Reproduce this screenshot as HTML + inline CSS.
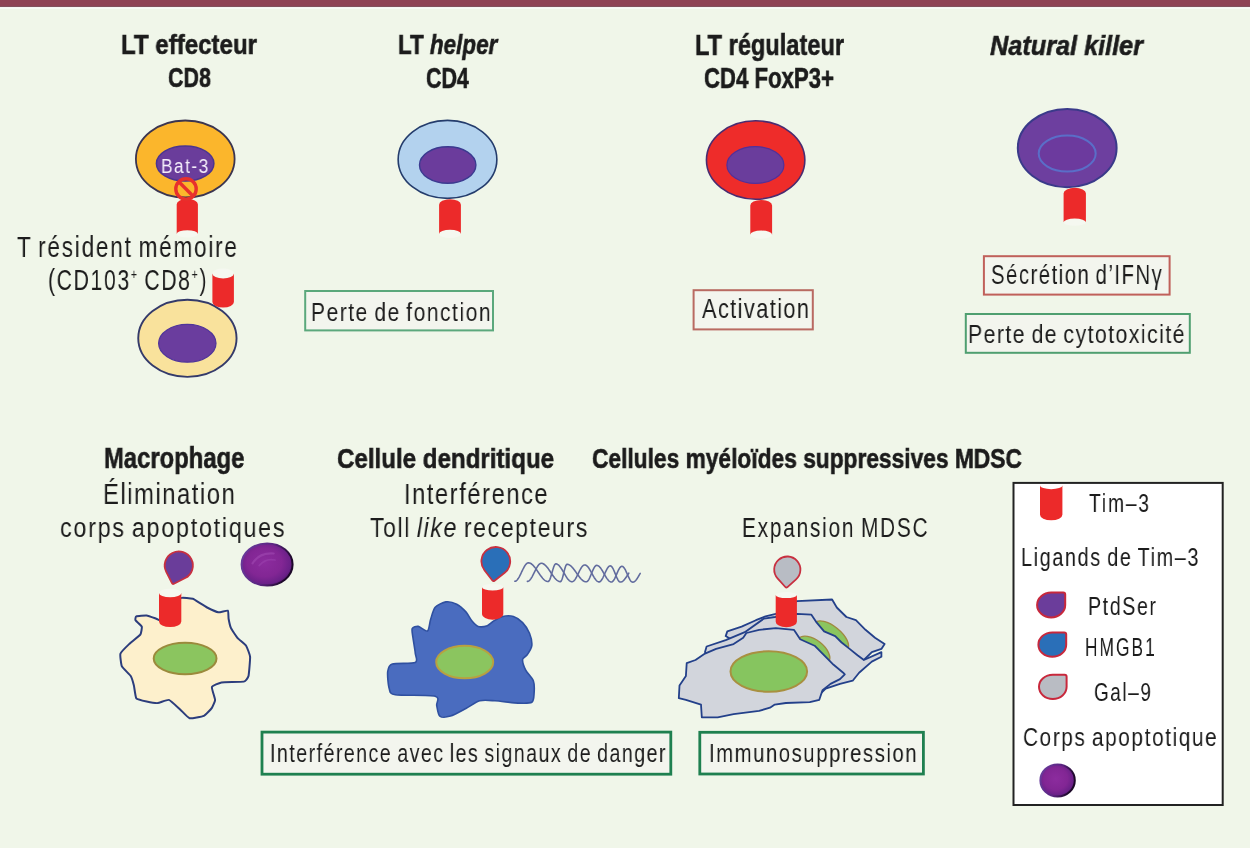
<!DOCTYPE html>
<html><head><meta charset="utf-8"><style>
html,body{margin:0;padding:0;}
body{width:1250px;height:848px;position:relative;overflow:hidden;background:#f0f6e9;font-family:"Liberation Sans",sans-serif;}
sup{font-size:0.5em;vertical-align:0;position:relative;top:-0.75em;}
i{font-style:italic;}
.r{}
.b{-webkit-text-stroke:0.6px #1c1c1c;}
</style></head><body>
<svg width="1250" height="848" style="position:absolute;left:0;top:0"><rect x="0" y="0" width="1250" height="6.2" fill="#8f4355"/><rect x="0" y="6.2" width="1250" height="1" fill="#6c3242"/><rect x="0" y="7.2" width="1250" height="1.3" fill="#ffffff"/><ellipse cx="185.25" cy="159.00" rx="49.35" ry="38.50" fill="#fbb62c" stroke="#3b3550" stroke-width="1.8"/><ellipse cx="185.15" cy="163.60" rx="28.75" ry="17.50" fill="#6a3d9b" stroke="#4b3590" stroke-width="1.5"/><ellipse cx="187.30" cy="233.90" rx="10.60" ry="3.60" fill="#f5f8f0"/><path d="M176.70,204.30 A10.60,5.50 0 0 1 197.90,204.30 L197.90,233.90 A10.60,3.60 0 0 0 176.70,233.90 Z" fill="#ec2a2a"/><circle cx="186" cy="189" r="10.2" fill="none" stroke="#e8302c" stroke-width="3.4"/><line x1="178.8" y1="181.8" x2="193.2" y2="196.2" stroke="#e8302c" stroke-width="3.4"/><ellipse cx="187.40" cy="338.30" rx="49.15" ry="38.55" fill="#f9e29c" stroke="#343a6a" stroke-width="1.9"/><ellipse cx="187.30" cy="343.30" rx="28.70" ry="18.90" fill="#6a3d9e" stroke="#50359a" stroke-width="1.2"/><ellipse cx="223.15" cy="273.50" rx="10.75" ry="4.90" fill="#f5f8f0"/><path d="M212.40,273.50 A10.75,4.90 0 0 0 233.90,273.50 L233.90,302.10 A10.75,5.50 0 0 1 212.40,302.10 Z" fill="#ec2a2a"/><ellipse cx="447.50" cy="159.40" rx="49.35" ry="39.00" fill="#b3d2ee" stroke="#243c6c" stroke-width="1.6"/><ellipse cx="447.70" cy="165.00" rx="28.20" ry="18.30" fill="#6b3c9c" stroke="#3b3a90" stroke-width="1.4"/><ellipse cx="450.00" cy="233.90" rx="10.90" ry="4.10" fill="#f5f8f0"/><path d="M439.10,204.70 A10.90,5.50 0 0 1 460.90,204.70 L460.90,233.90 A10.90,4.10 0 0 0 439.10,233.90 Z" fill="#ec2a2a"/><ellipse cx="755.65" cy="160.00" rx="49.20" ry="39.20" fill="#ee2c2a" stroke="#4a2c70" stroke-width="1.6"/><ellipse cx="755.40" cy="165.00" rx="28.50" ry="18.40" fill="#6a3d9c" stroke="#52309a" stroke-width="1.2"/><ellipse cx="761.20" cy="234.70" rx="10.90" ry="4.10" fill="#f5f8f0"/><path d="M750.30,205.50 A10.90,5.50 0 0 1 772.10,205.50 L772.10,234.70 A10.90,4.10 0 0 0 750.30,234.70 Z" fill="#ec2a2a"/><ellipse cx="1067.20" cy="148.10" rx="49.40" ry="39.20" fill="#6d3f9f" stroke="#3a3a8a" stroke-width="2"/><ellipse cx="1067.20" cy="153.60" rx="28.50" ry="18.00" fill="#6c3a9e" stroke="#5a6ec8" stroke-width="2"/><ellipse cx="1074.75" cy="222.20" rx="11.15" ry="3.60" fill="#f5f8f0"/><path d="M1063.60,193.30 A11.15,5.50 0 0 1 1085.90,193.30 L1085.90,222.20 A11.15,3.60 0 0 0 1063.60,222.20 Z" fill="#ec2a2a"/><path d="M180.90,598.00 C182.09,597.25 191.58,598.49 192.80,598.80 C194.02,599.11 198.25,602.12 199.20,602.70 C200.15,603.28 205.83,606.86 207.10,607.50 C208.37,608.14 216.92,612.09 218.30,612.30 C219.68,612.51 227.11,610.27 227.80,610.70 C228.49,611.13 228.39,617.53 228.60,618.70 C228.81,619.87 230.41,626.93 231.00,628.20 C231.59,629.47 236.39,636.63 237.40,637.80 C238.41,638.97 245.25,644.43 246.10,645.70 C246.95,646.97 249.94,654.88 250.10,656.90 C250.26,658.92 248.92,674.35 248.50,676.00 C248.08,677.65 245.60,681.17 243.80,681.60 C242.00,682.03 223.63,682.03 221.50,682.40 C219.37,682.77 212.33,685.93 211.90,687.10 C211.47,688.27 215.10,698.52 215.10,699.90 C215.10,701.28 212.65,706.74 211.90,707.80 C211.15,708.86 205.39,715.11 203.90,715.80 C202.41,716.49 191.19,718.63 189.60,718.20 C188.01,717.77 181.48,710.62 180.10,709.40 C178.72,708.18 170.39,700.32 168.90,699.90 C167.41,699.48 159.29,702.99 157.80,703.10 C156.31,703.21 148.03,701.82 146.60,701.50 C145.17,701.18 137.15,699.37 136.30,698.30 C135.45,697.23 134.27,686.99 133.90,685.50 C133.53,684.01 131.50,677.27 130.70,676.00 C129.90,674.73 122.59,667.89 121.90,666.40 C121.21,664.91 119.92,655.19 120.40,653.70 C120.88,652.21 127.77,645.37 129.10,644.10 C130.43,642.83 139.45,635.77 140.30,634.60 C141.15,633.43 142.12,627.55 141.80,626.60 C141.48,625.65 135.87,620.99 135.50,620.30 C135.13,619.61 135.56,616.62 136.30,616.30 C137.04,615.98 145.27,615.34 146.60,615.50 C147.93,615.66 154.97,618.27 156.20,618.70 C157.43,619.13 163.75,622.58 165.00,622.00 C166.25,621.42 173.94,611.60 175.00,610.00 C176.06,608.40 179.71,598.75 180.90,598.00 Z" fill="#fdf0cc" stroke="#2c3d7c" stroke-width="2" stroke-linejoin="round"/><ellipse cx="185.10" cy="658.50" rx="31.40" ry="15.70" fill="#8bc55f" stroke="#9b8a3c" stroke-width="2"/><ellipse cx="170.15" cy="593.00" rx="11.15" ry="4.30" fill="#f5f8f0"/><path d="M159.00,593.00 A11.15,4.30 0 0 0 181.30,593.00 L181.30,621.50 A11.15,5.50 0 0 1 159.00,621.50 Z" fill="#ec2a2a"/><path transform="translate(178.80,565.50) rotate(63)" d="M14.10,0 L14.10,12.60 Q14.10,14.10 12.60,14.10 L0,14.10 A14.10,14.10 0 1 1 14.10,0 Z" fill="#6a3d9a" stroke="#c83040" stroke-width="1.8" stroke-linejoin="round"/><defs><radialGradient id="ap" cx="0.45" cy="0.45" r="0.62"><stop offset="0" stop-color="#8c2c9e"/><stop offset="0.55" stop-color="#822694"/><stop offset="0.82" stop-color="#6a2088"/><stop offset="1" stop-color="#3a1050"/></radialGradient><linearGradient id="apr" x1="0" y1="0" x2="1" y2="0.3"><stop offset="0" stop-color="#6b3fa0"/><stop offset="0.6" stop-color="#5a2480"/><stop offset="1" stop-color="#1c0828"/></linearGradient></defs><ellipse cx="267.10" cy="564.50" rx="25.50" ry="21.10" fill="url(#ap)" stroke="url(#apr)" stroke-width="2"/><path d="M252.53,563.39 Q259.15,552.35 273.73,553.45" fill="none" stroke="#a550b8" stroke-width="2.12" stroke-linecap="round" opacity="0.5"/><path d="M259.15,565.61 Q265.78,557.87 275.05,560.08" fill="none" stroke="#a04ab4" stroke-width="1.59" stroke-linecap="round" opacity="0.45"/><path d="M445.90,601.90 C448.77,601.49 454.03,602.87 456.70,604.20 C459.37,605.53 463.86,609.65 465.90,611.90 C467.94,614.15 470.37,619.17 472.00,621.10 C473.63,623.03 476.06,625.79 478.10,626.40 C480.14,627.01 485.25,626.41 487.30,625.70 C489.35,624.99 491.45,622.33 493.50,621.10 C495.55,619.87 500.05,617.11 502.70,616.50 C505.35,615.89 510.75,615.69 513.40,616.50 C516.05,617.31 520.45,620.36 522.60,622.60 C524.75,624.84 528.27,630.23 529.50,633.30 C530.73,636.37 532.11,642.73 531.80,645.60 C531.49,648.47 528.43,652.96 527.20,654.80 C525.97,656.64 522.80,657.36 522.60,659.40 C522.40,661.44 524.26,667.23 525.70,670.10 C527.14,672.97 532.28,677.83 533.40,680.90 C534.52,683.97 534.31,690.25 534.10,693.10 C533.89,695.95 533.95,700.97 531.80,702.30 C529.65,703.63 522.91,703.30 518.00,703.10 C513.09,702.90 500.11,701.11 495.00,700.80 C489.89,700.49 483.58,699.77 479.70,700.80 C475.82,701.83 469.79,706.46 465.90,708.50 C462.01,710.54 453.98,715.09 450.50,716.10 C447.02,717.11 441.64,717.53 439.80,716.10 C437.96,714.67 437.31,708.05 436.70,705.40 C436.09,702.75 440.72,697.63 435.20,696.20 C429.68,694.77 401.43,695.73 395.30,694.70 C389.17,693.67 390.21,691.57 389.20,688.50 C388.19,685.43 387.29,674.97 387.70,671.70 C388.11,668.43 388.62,665.23 392.30,664.00 C395.98,662.77 412.23,663.93 415.30,662.50 C418.37,661.07 415.61,656.58 415.30,653.30 C414.99,650.02 413.41,641.18 413.00,637.90 C412.59,634.62 411.49,630.23 412.20,628.70 C412.91,627.17 416.26,626.09 418.30,626.40 C420.34,626.71 425.86,631.92 427.50,631.00 C429.14,630.08 429.57,622.66 430.60,619.50 C431.63,616.34 433.16,609.65 435.20,607.30 C437.24,604.95 443.03,602.31 445.90,601.90 Z" fill="#4a6cbf" stroke="#2f50a0" stroke-width="1.6" stroke-linejoin="round"/><ellipse cx="464.70" cy="662.10" rx="28.50" ry="16.25" fill="#8bc55f" stroke="#b8a040" stroke-width="2"/><ellipse cx="492.65" cy="587.20" rx="10.65" ry="3.30" fill="#f5f8f0"/><path d="M482.00,587.20 A10.65,3.30 0 0 0 503.30,587.20 L503.30,614.20 A10.65,5.50 0 0 1 482.00,614.20 Z" fill="#ec2a2a"/><path transform="translate(495.80,561.40) rotate(52)" d="M14.40,0 L14.40,12.90 Q14.40,14.40 12.90,14.40 L0,14.40 A14.40,14.40 0 1 1 14.40,0 Z" fill="#2a6fb8" stroke="#c83040" stroke-width="1.8" stroke-linejoin="round"/><path d="M514.80,581.30 L515.18,581.27 L515.56,581.16 L515.94,580.98 L516.33,580.74 L516.71,580.42 L517.09,580.04 L517.47,579.60 L517.85,579.10 L518.23,578.55 L518.61,577.94 L518.99,577.29 L519.38,576.60 L519.76,575.88 L520.14,575.12 L520.52,574.34 L520.90,573.55 L521.28,572.74 L521.66,571.93 L522.04,571.11 L522.43,570.31 L522.81,569.52 L523.19,568.75 L523.57,568.01 L523.95,567.29 L524.33,566.62 L524.71,565.98 L525.09,565.39 L525.48,564.86 L525.86,564.38 L526.24,563.96 L526.62,563.60 L527.00,563.30 L527.38,563.08 L527.76,562.92 L528.14,562.83 L528.53,562.81 L528.91,562.85 L529.29,562.92 L529.67,563.02 L530.05,563.16 L530.43,563.33 L530.81,563.53 L531.19,563.76 L531.58,564.03 L531.96,564.33 L532.34,564.65 L532.72,565.00 L533.10,565.38 L533.48,565.79 L533.86,566.21 L534.24,566.66 L534.63,567.13 L535.01,567.62 L535.39,568.13 L535.77,568.65 L536.15,569.18 L536.53,569.72 L536.91,570.27 L537.29,570.83 L537.68,571.40 L538.06,571.96 L538.44,572.53 L538.82,573.10 L539.20,573.66 L539.58,574.22 L539.96,574.77 L540.35,575.30 L540.73,575.83 L541.11,576.35 L541.49,576.85 L541.87,577.33 L542.25,577.79 L542.63,578.23 L543.01,578.65 L543.40,579.05 L543.78,579.42 L544.16,579.76 L544.54,580.08 L544.92,580.37 L545.30,580.62 L545.68,580.85 L546.06,581.05 L546.45,581.21 L546.83,581.34 L547.21,581.44 L547.59,581.51 L547.97,581.54 L548.35,581.49 L548.73,581.25 L549.11,580.81 L549.50,580.17 L549.88,579.35 L550.26,578.38 L550.64,577.27 L551.02,576.05 L551.40,574.75 L551.78,573.41 L552.16,572.04 L552.55,570.70 L552.93,569.40 L553.31,568.18 L553.69,567.06 L554.07,566.08 L554.45,565.26 L554.83,564.61 L555.21,564.15 L555.60,563.90 L555.98,563.84 L556.36,563.89 L556.74,563.99 L557.12,564.14 L557.50,564.33 L557.88,564.57 L558.26,564.85 L558.65,565.18 L559.03,565.55 L559.41,565.96 L559.79,566.41 L560.17,566.89 L560.55,567.40 L560.93,567.94 L561.32,568.51 L561.70,569.11 L562.08,569.72 L562.46,570.35 L562.84,570.99 L563.22,571.64 L563.60,572.30 L563.98,572.96 L564.37,573.61 L564.75,574.27 L565.13,574.91 L565.51,575.55 L565.89,576.17 L566.27,576.77 L566.65,577.34 L567.03,577.90 L567.42,578.42 L567.80,578.92 L568.18,579.38 L568.56,579.80 L568.94,580.19 L569.32,580.53 L569.70,580.84 L570.08,581.10 L570.47,581.31 L570.85,581.48 L571.23,581.61 L571.61,581.68 L571.99,581.71 L572.37,581.68 L572.75,581.57 L573.13,581.39 L573.52,581.13 L573.90,580.81 L574.28,580.42 L574.66,579.96 L575.04,579.45 L575.42,578.88 L575.80,578.27 L576.18,577.60 L576.57,576.91 L576.95,576.18 L577.33,575.42 L577.71,574.65 L578.09,573.86 L578.47,573.07 L578.85,572.28 L579.23,571.50 L579.62,570.74 L580.00,570.00 L580.38,569.29 L580.76,568.62 L581.14,567.99 L581.52,567.40 L581.90,566.87 L582.28,566.39 L582.67,565.98 L583.05,565.63 L583.43,565.35 L583.81,565.13 L584.19,564.99 L584.57,564.93 L584.95,564.93 L585.34,565.00 L585.72,565.13 L586.10,565.31 L586.48,565.55 L586.86,565.85 L587.24,566.20 L587.62,566.59 L588.00,567.04 L588.39,567.53 L588.77,568.06 L589.15,568.62 L589.53,569.23 L589.91,569.85 L590.29,570.51 L590.67,571.18 L591.05,571.87 L591.44,572.57 L591.82,573.28 L592.20,573.98 L592.58,574.68 L592.96,575.38 L593.34,576.06 L593.72,576.72 L594.10,577.35 L594.49,577.96 L594.87,578.54 L595.25,579.09 L595.63,579.59 L596.01,580.05 L596.39,580.47 L596.77,580.83 L597.15,581.15 L597.54,581.41 L597.92,581.62 L598.30,581.77 L598.68,581.87 L599.06,581.90 L599.44,581.87 L599.82,581.74 L600.20,581.52 L600.59,581.21 L600.97,580.82 L601.35,580.35 L601.73,579.80 L602.11,579.18 L602.49,578.50 L602.87,577.77 L603.25,576.99 L603.64,576.18 L604.02,575.34 L604.40,574.49 L604.78,573.63 L605.16,572.77 L605.54,571.92 L605.92,571.10 L606.31,570.31 L606.69,569.56 L607.07,568.87 L607.45,568.23 L607.83,567.65 L608.21,567.15 L608.59,566.72 L608.97,566.38 L609.36,566.13 L609.74,565.96 L610.12,565.88 L610.50,565.90 L610.88,566.03 L611.26,566.27 L611.64,566.62 L612.02,567.07 L612.41,567.62 L612.79,568.25 L613.17,568.97 L613.55,569.75 L613.93,570.60 L614.31,571.49 L614.69,572.41 L615.07,573.36 L615.46,574.31 L615.84,575.26 L616.22,576.19 L616.60,577.09 L616.98,577.94 L617.36,578.74 L617.74,579.48 L618.12,580.14 L618.51,580.71 L618.89,581.19 L619.27,581.56 L619.65,581.84 L620.03,582.00 L620.41,582.06 L620.79,582.03 L621.17,581.96 L621.56,581.84 L621.94,581.68 L622.32,581.47 L622.70,581.21 L623.08,580.91 L623.46,580.57 L623.84,580.19 L624.22,579.78 L624.61,579.33 L624.99,578.86 L625.37,578.35 L625.75,577.82 L626.13,577.27 L626.51,576.70 L626.89,576.12 L627.27,575.53 L627.66,574.93 L628.04,574.33 L628.42,573.73 L628.80,573.13" fill="none" stroke="#626c9e" stroke-width="1.6" stroke-linecap="round" stroke-linejoin="round"/><path d="M527.40,581.39 L527.78,581.36 L528.15,581.26 L528.53,581.10 L528.91,580.87 L529.29,580.58 L529.66,580.24 L530.04,579.83 L530.42,579.37 L530.80,578.86 L531.17,578.30 L531.55,577.69 L531.93,577.05 L532.30,576.38 L532.68,575.67 L533.06,574.94 L533.44,574.19 L533.81,573.43 L534.19,572.67 L534.57,571.89 L534.95,571.13 L535.32,570.37 L535.70,569.63 L536.08,568.90 L536.45,568.20 L536.83,567.54 L537.21,566.90 L537.59,566.31 L537.96,565.76 L538.34,565.25 L538.72,564.80 L539.09,564.41 L539.47,564.07 L539.85,563.79 L540.23,563.57 L540.60,563.41 L540.98,563.32 L541.36,563.30 L541.74,563.32 L542.11,563.39 L542.49,563.48 L542.87,563.62 L543.24,563.78 L543.62,563.99 L544.00,564.22 L544.38,564.48 L544.75,564.78 L545.13,565.10 L545.51,565.46 L545.89,565.84 L546.26,566.24 L546.64,566.67 L547.02,567.12 L547.39,567.60 L547.77,568.09 L548.15,568.59 L548.53,569.12 L548.90,569.65 L549.28,570.20 L549.66,570.75 L550.04,571.31 L550.41,571.87 L550.79,572.44 L551.17,573.01 L551.54,573.57 L551.92,574.13 L552.30,574.69 L552.68,575.23 L553.05,575.76 L553.43,576.29 L553.81,576.79 L554.19,577.28 L554.56,577.75 L554.94,578.20 L555.32,578.63 L555.69,579.04 L556.07,579.42 L556.45,579.77 L556.83,580.10 L557.20,580.40 L557.58,580.66 L557.96,580.90 L558.34,581.10 L558.71,581.27 L559.09,581.41 L559.47,581.52 L559.84,581.59 L560.22,581.62 L560.60,581.59 L560.98,581.31 L561.35,580.77 L561.73,579.98 L562.11,578.97 L562.48,577.77 L562.86,576.42 L563.24,574.96 L563.62,573.44 L563.99,571.90 L564.37,570.39 L564.75,568.97 L565.13,567.67 L565.50,566.54 L565.88,565.60 L566.26,564.90 L566.63,564.45 L567.01,564.26 L567.39,564.28 L567.77,564.34 L568.14,564.43 L568.52,564.55 L568.90,564.70 L569.28,564.89 L569.65,565.11 L570.03,565.36 L570.41,565.63 L570.78,565.94 L571.16,566.27 L571.54,566.63 L571.92,567.01 L572.29,567.42 L572.67,567.84 L573.05,568.29 L573.43,568.75 L573.80,569.23 L574.18,569.73 L574.56,570.23 L574.93,570.75 L575.31,571.28 L575.69,571.81 L576.07,572.35 L576.44,572.89 L576.82,573.43 L577.20,573.96 L577.58,574.50 L577.95,575.03 L578.33,575.55 L578.71,576.06 L579.08,576.56 L579.46,577.05 L579.84,577.52 L580.22,577.97 L580.59,578.41 L580.97,578.82 L581.35,579.21 L581.73,579.58 L582.10,579.93 L582.48,580.25 L582.86,580.54 L583.23,580.80 L583.61,581.04 L583.99,581.24 L584.37,581.42 L584.74,581.56 L585.12,581.67 L585.50,581.75 L585.87,581.80 L586.25,581.81 L586.63,581.75 L587.01,581.58 L587.38,581.31 L587.76,580.94 L588.14,580.48 L588.52,579.93 L588.89,579.30 L589.27,578.60 L589.65,577.84 L590.02,577.02 L590.40,576.16 L590.78,575.27 L591.16,574.35 L591.53,573.43 L591.91,572.51 L592.29,571.60 L592.67,570.72 L593.04,569.88 L593.42,569.08 L593.80,568.34 L594.17,567.66 L594.55,567.06 L594.93,566.54 L595.31,566.12 L595.68,565.78 L596.06,565.54 L596.44,565.41 L596.82,565.37 L597.19,565.42 L597.57,565.52 L597.95,565.67 L598.32,565.87 L598.70,566.12 L599.08,566.43 L599.46,566.78 L599.83,567.18 L600.21,567.61 L600.59,568.09 L600.97,568.61 L601.34,569.15 L601.72,569.73 L602.10,570.33 L602.47,570.96 L602.85,571.60 L603.23,572.25 L603.61,572.92 L603.98,573.59 L604.36,574.26 L604.74,574.92 L605.12,575.58 L605.49,576.22 L605.87,576.85 L606.25,577.46 L606.62,578.04 L607.00,578.60 L607.38,579.12 L607.76,579.60 L608.13,580.05 L608.51,580.46 L608.89,580.82 L609.26,581.14 L609.64,581.41 L610.02,581.63 L610.40,581.80 L610.77,581.92 L611.15,581.98 L611.53,581.99 L611.91,581.91 L612.28,581.73 L612.66,581.45 L613.04,581.08 L613.41,580.62 L613.79,580.08 L614.17,579.47 L614.55,578.79 L614.92,578.05 L615.30,577.26 L615.68,576.43 L616.06,575.57 L616.43,574.70 L616.81,573.82 L617.19,572.94 L617.56,572.08 L617.94,571.25 L618.32,570.45 L618.70,569.70 L619.07,569.01 L619.45,568.38 L619.83,567.82 L620.21,567.34 L620.58,566.95 L620.96,566.65 L621.34,566.44 L621.71,566.34 L622.09,566.32 L622.47,566.41 L622.85,566.59 L623.22,566.87 L623.60,567.23 L623.98,567.68 L624.36,568.21 L624.73,568.81 L625.11,569.48 L625.49,570.20 L625.86,570.98 L626.24,571.79 L626.62,572.63 L627.00,573.50 L627.37,574.37 L627.75,575.24 L628.13,576.09 L628.51,576.93 L628.88,577.73 L629.26,578.49 L629.64,579.19 L630.01,579.84 L630.39,580.42 L630.77,580.92 L631.15,581.34 L631.52,581.68 L631.90,581.93 L632.28,582.08 L632.65,582.15 L633.03,582.13 L633.41,582.05 L633.79,581.91 L634.16,581.72 L634.54,581.48 L634.92,581.18 L635.30,580.83 L635.67,580.44 L636.05,580.00 L636.43,579.52 L636.80,579.00 L637.18,578.45 L637.56,577.87 L637.94,577.27 L638.31,576.65 L638.69,576.01 L639.07,575.36 L639.45,574.71 L639.82,574.06 L640.20,573.41" fill="none" stroke="#626c9e" stroke-width="1.6" stroke-linecap="round" stroke-linejoin="round"/><path d="M725.70,636.10 L727.30,631.40 L741.60,626.60 L755.90,620.20 L765.50,616.30 L775.80,613.90 L786.00,606.00 L797.00,601.10 L832.10,599.50 L836.80,607.50 L846.40,617.00 L855.90,620.20 L865.50,629.80 L875.00,637.70 L884.60,644.10 L881.40,648.90 L871.80,652.10 L863.90,660.00 L860.70,663.20 L840.00,668.00 L780.00,650.00 L740.00,645.00 Z" fill="#d2d5dc" stroke="#23408a" stroke-width="1.8" stroke-linejoin="round"/><ellipse cx="831" cy="636.2" rx="21" ry="10" transform="rotate(39 831 636.2)" fill="#8bc55f" stroke="#a08a40" stroke-width="1.4"/><path d="M705.00,652.00 L706.60,646.50 L725.70,640.10 L744.80,632.20 L763.90,618.60 L775.00,617.00 L786.00,615.00 L797.00,613.90 L811.40,614.70 L816.10,621.80 L824.10,631.40 L835.20,636.10 L841.60,642.50 L849.60,648.90 L857.50,655.20 L863.90,660.00 L881.40,652.10 L881.40,656.80 L871.80,661.60 L859.10,672.70 L852.70,680.70 L840.00,683.90 L825.70,688.60 L819.00,695.00 L780.00,700.00 L720.00,680.00 Z" fill="#d2d5dc" stroke="#23408a" stroke-width="1.8" stroke-linejoin="round"/><ellipse cx="813.5" cy="650.5" rx="19" ry="10.5" transform="rotate(38 813.5 650.5)" fill="#8bc55f" stroke="#a08a40" stroke-width="1.4"/><path d="M678.80,698.20 L679.50,685.50 L685.90,675.90 L686.70,663.20 L695.50,660.00 L705.00,653.60 L716.10,648.90 L733.60,644.10 L743.20,637.70 L746.40,633.00 L759.10,629.80 L775.80,628.20 L793.90,629.80 L800.20,639.30 L814.60,645.70 L822.50,653.60 L833.60,664.80 L843.20,672.70 L844.80,674.30 L840.00,679.10 L830.50,683.90 L822.50,690.20 L819.30,699.80 L809.80,702.20 L785.90,703.00 L774.80,704.60 L770.00,707.70 L759.10,710.90 L733.60,714.10 L717.70,717.30 L701.80,717.30 L701.00,704.60 L685.90,699.80 Z" fill="#d2d5dc" stroke="#23408a" stroke-width="1.8" stroke-linejoin="round"/><ellipse cx="768.80" cy="671.50" rx="38.30" ry="20.20" fill="#86c55f" stroke="#a89040" stroke-width="2"/><ellipse cx="786.30" cy="595.10" rx="10.60" ry="3.00" fill="#f5f8f0"/><path d="M775.70,595.10 A10.60,3.00 0 0 0 796.90,595.10 L796.90,621.70 A10.60,5.50 0 0 1 775.70,621.70 Z" fill="#ec2a2a"/><path transform="translate(787.30,569.60) rotate(48)" d="M13.10,0 L13.10,11.60 Q13.10,13.10 11.60,13.10 L0,13.10 A13.10,13.10 0 1 1 13.10,0 Z" fill="#b8bcc4" stroke="#c83040" stroke-width="1.8" stroke-linejoin="round"/></svg>
<svg width="1250" height="848" style="position:absolute;left:0;top:0"><rect x="305.20" y="291.00" width="187.80" height="39.40" fill="#f3f5ee" stroke="#5ba87c" stroke-width="2"/><rect x="693.60" y="290.20" width="119.20" height="39.20" fill="#f3f5ee" stroke="#b96a62" stroke-width="2"/><rect x="983.90" y="256.20" width="185.70" height="38.40" fill="#f3f5ee" stroke="#c0605a" stroke-width="2"/><rect x="965.80" y="314.00" width="224.00" height="38.80" fill="#f3f5ee" stroke="#4f9f70" stroke-width="2"/><rect x="262.00" y="732.10" width="408.80" height="42.10" fill="#f3f5ee" stroke="#1f8050" stroke-width="2.8"/><rect x="699.80" y="732.30" width="223.60" height="41.70" fill="#f3f5ee" stroke="#1f8050" stroke-width="2.8"/><rect x="1013.50" y="482.90" width="209.20" height="322.10" fill="#ffffff" stroke="#222222" stroke-width="2"/></svg>
<svg width="1250" height="848" style="position:absolute;left:0;top:0"><path d="M1040.00,485.40 A11.20,3.80 0 0 0 1062.40,485.40 L1062.40,514.80 A11.20,5.50 0 0 1 1040.00,514.80 Z" fill="#ec2a2a"/><path d="M1051.15,592.50 L1063.20,592.50 Q1065.20,592.50 1065.20,594.50 L1065.20,604.95 A14.05,12.45 0 1 1 1051.15,592.50 Z" fill="#6b3d9b" stroke="#c8283c" stroke-width="2.0"/><path d="M1052.30,632.50 L1064.20,632.50 Q1066.20,632.50 1066.20,634.50 L1066.20,644.65 A13.90,12.15 0 1 1 1052.30,632.50 Z" fill="#2a6fb8" stroke="#c8283c" stroke-width="2.0"/><path d="M1052.80,674.70 L1064.60,674.70 Q1066.60,674.70 1066.60,676.70 L1066.60,686.85 A13.80,12.15 0 1 1 1052.80,674.70 Z" fill="#b9bcc3" stroke="#c8283c" stroke-width="2.0"/><defs><radialGradient id="ap2" cx="0.45" cy="0.45" r="0.62"><stop offset="0" stop-color="#8c2c9e"/><stop offset="0.55" stop-color="#822694"/><stop offset="0.82" stop-color="#6a2088"/><stop offset="1" stop-color="#3a1050"/></radialGradient><linearGradient id="ap2r" x1="0" y1="0" x2="1" y2="0.3"><stop offset="0" stop-color="#6b3fa0"/><stop offset="0.6" stop-color="#5a2480"/><stop offset="1" stop-color="#1c0828"/></linearGradient></defs><ellipse cx="1057.60" cy="780.40" rx="17.20" ry="16.00" fill="url(#ap2)" stroke="url(#ap2r)" stroke-width="2"/></svg>
<div id="t1" class="b" style="position:absolute;left:121.11px;top:30.00px;transform-origin:0 0;transform:scaleX(0.8453);will-change:transform;white-space:nowrap;font-family:'Liberation Sans',sans-serif;font-size:28.49px;line-height:28.49px;font-weight:700;color:#1c1c1c;">LT effecteur</div><div id="t2" class="b" style="position:absolute;left:168.14px;top:63.20px;transform-origin:0 0;transform:scaleX(0.7564);will-change:transform;white-space:nowrap;font-family:'Liberation Sans',sans-serif;font-size:28.34px;line-height:28.34px;font-weight:700;color:#1c1c1c;">CD8</div><div id="t3" class="b" style="position:absolute;left:397.63px;top:30.20px;transform-origin:0 0;transform:scaleX(0.7873);will-change:transform;white-space:nowrap;font-family:'Liberation Sans',sans-serif;font-size:28.49px;line-height:28.49px;font-weight:700;color:#1c1c1c;">LT <i>helper</i></div><div id="t4" class="b" style="position:absolute;left:425.95px;top:63.70px;transform-origin:0 0;transform:scaleX(0.7482);will-change:transform;white-space:nowrap;font-family:'Liberation Sans',sans-serif;font-size:28.63px;line-height:28.63px;font-weight:700;color:#1c1c1c;">CD4</div><div id="t5" class="b" style="position:absolute;left:694.95px;top:30.50px;transform-origin:0 0;transform:scaleX(0.8246);will-change:transform;white-space:nowrap;font-family:'Liberation Sans',sans-serif;font-size:28.63px;line-height:28.63px;font-weight:700;color:#1c1c1c;">LT régulateur</div><div id="t6" class="b" style="position:absolute;left:704.44px;top:63.60px;transform-origin:0 0;transform:scaleX(0.7586);will-change:transform;white-space:nowrap;font-family:'Liberation Sans',sans-serif;font-size:29.22px;line-height:29.22px;font-weight:700;color:#1c1c1c;">CD4 FoxP3+</div><div id="t7" class="b" style="position:absolute;left:989.91px;top:30.50px;transform-origin:0 0;transform:scaleX(0.8919);will-change:transform;white-space:nowrap;font-family:'Liberation Sans',sans-serif;font-size:28.34px;line-height:28.34px;font-weight:700;color:#1c1c1c;"><i>Natural killer</i></div><div id="t8" style="position:absolute;left:161.24px;top:157.10px;transform-origin:0 0;transform:scaleX(0.8784);will-change:transform;white-space:nowrap;font-family:'Liberation Sans',sans-serif;font-size:19.77px;line-height:19.77px;font-weight:400;color:#f4eefa;letter-spacing:1.636px;word-spacing:-0.09em;">Bat-3</div><div id="t9" class="r" style="position:absolute;left:17.41px;top:233.40px;transform-origin:0 0;transform:scaleX(0.7884);will-change:transform;white-space:nowrap;font-family:'Liberation Sans',sans-serif;font-size:28.63px;line-height:28.63px;font-weight:400;color:#1c1c1c;letter-spacing:2.241px;word-spacing:-0.09em;">T résident mémoire</div><div id="t10" class="r" style="position:absolute;left:47.93px;top:266.00px;transform-origin:0 0;transform:scaleX(0.7370);will-change:transform;white-space:nowrap;font-family:'Liberation Sans',sans-serif;font-size:28.63px;line-height:28.63px;font-weight:400;color:#1c1c1c;letter-spacing:2.288px;word-spacing:-0.09em;">(CD103<sup>+</sup> CD8<sup>+</sup>)</div><div id="t11" class="r" style="position:absolute;left:310.58px;top:299.60px;transform-origin:0 0;transform:scaleX(0.8101);will-change:transform;white-space:nowrap;font-family:'Liberation Sans',sans-serif;font-size:25.87px;line-height:25.87px;font-weight:400;color:#1c1c1c;letter-spacing:1.920px;word-spacing:-0.09em;">Perte de fonction</div><div id="t12" class="r" style="position:absolute;left:701.60px;top:295.50px;transform-origin:0 0;transform:scaleX(0.8092);will-change:transform;white-space:nowrap;font-family:'Liberation Sans',sans-serif;font-size:26.89px;line-height:26.89px;font-weight:400;color:#1c1c1c;letter-spacing:1.747px;word-spacing:-0.09em;">Activation</div><div id="t13" class="r" style="position:absolute;left:991.24px;top:262.00px;transform-origin:0 0;transform:scaleX(0.7603);will-change:transform;white-space:nowrap;font-family:'Liberation Sans',sans-serif;font-size:26.74px;line-height:26.74px;font-weight:400;color:#1c1c1c;letter-spacing:1.964px;word-spacing:-0.09em;">Sécrétion d’IFNγ</div><div id="t14" class="r" style="position:absolute;left:968.34px;top:321.80px;transform-origin:0 0;transform:scaleX(0.8310);will-change:transform;white-space:nowrap;font-family:'Liberation Sans',sans-serif;font-size:25.58px;line-height:25.58px;font-weight:400;color:#1c1c1c;letter-spacing:1.741px;word-spacing:-0.09em;">Perte de cytotoxicité</div><div id="t15" class="b" style="position:absolute;left:104.13px;top:443.70px;transform-origin:0 0;transform:scaleX(0.8325);will-change:transform;white-space:nowrap;font-family:'Liberation Sans',sans-serif;font-size:28.63px;line-height:28.63px;font-weight:700;color:#1c1c1c;">Macrophage</div><div id="t16" class="r" style="position:absolute;left:102.73px;top:479.80px;transform-origin:0 0;transform:scaleX(0.8335);will-change:transform;white-space:nowrap;font-family:'Liberation Sans',sans-serif;font-size:28.63px;line-height:28.63px;font-weight:400;color:#1c1c1c;letter-spacing:1.818px;word-spacing:-0.09em;">Élimination</div><div id="t17" class="r" style="position:absolute;left:59.58px;top:512.50px;transform-origin:0 0;transform:scaleX(0.8236);will-change:transform;white-space:nowrap;font-family:'Liberation Sans',sans-serif;font-size:28.34px;line-height:28.34px;font-weight:400;color:#1c1c1c;letter-spacing:2.107px;word-spacing:-0.09em;">corps apoptotiques</div><div id="t18" class="b" style="position:absolute;left:336.75px;top:443.60px;transform-origin:0 0;transform:scaleX(0.8467);will-change:transform;white-space:nowrap;font-family:'Liberation Sans',sans-serif;font-size:28.49px;line-height:28.49px;font-weight:700;color:#1c1c1c;">Cellule dendritique</div><div id="t19" class="r" style="position:absolute;left:404.21px;top:479.80px;transform-origin:0 0;transform:scaleX(0.8302);will-change:transform;white-space:nowrap;font-family:'Liberation Sans',sans-serif;font-size:28.63px;line-height:28.63px;font-weight:400;color:#1c1c1c;letter-spacing:1.843px;word-spacing:-0.09em;">Interférence</div><div id="t20" class="r" style="position:absolute;left:370.18px;top:512.60px;transform-origin:0 0;transform:scaleX(0.8151);will-change:transform;white-space:nowrap;font-family:'Liberation Sans',sans-serif;font-size:28.34px;line-height:28.34px;font-weight:400;color:#1c1c1c;letter-spacing:1.952px;word-spacing:-0.09em;">Toll <i>like</i> recepteurs</div><div id="t21" class="b" style="position:absolute;left:592.40px;top:443.60px;transform-origin:0 0;transform:scaleX(0.7985);will-change:transform;white-space:nowrap;font-family:'Liberation Sans',sans-serif;font-size:28.49px;line-height:28.49px;font-weight:700;color:#1c1c1c;">Cellules myéloïdes suppressives MDSC</div><div id="t22" class="r" style="position:absolute;left:741.62px;top:512.60px;transform-origin:0 0;transform:scaleX(0.7383);will-change:transform;white-space:nowrap;font-family:'Liberation Sans',sans-serif;font-size:28.20px;line-height:28.20px;font-weight:400;color:#1c1c1c;letter-spacing:2.420px;word-spacing:-0.09em;">Expansion MDSC</div><div id="t23" class="r" style="position:absolute;left:270.10px;top:740.00px;transform-origin:0 0;transform:scaleX(0.7490);will-change:transform;white-space:nowrap;font-family:'Liberation Sans',sans-serif;font-size:26.16px;line-height:26.16px;font-weight:400;color:#1c1c1c;letter-spacing:1.962px;word-spacing:-0.09em;">Interférence avec les signaux de danger</div><div id="t24" class="r" style="position:absolute;left:708.85px;top:740.00px;transform-origin:0 0;transform:scaleX(0.7773);will-change:transform;white-space:nowrap;font-family:'Liberation Sans',sans-serif;font-size:26.16px;line-height:26.16px;font-weight:400;color:#1c1c1c;letter-spacing:1.972px;word-spacing:-0.09em;">Immunosuppression</div><div id="t25" class="r" style="position:absolute;left:1089.47px;top:490.00px;transform-origin:0 0;transform:scaleX(0.7325);will-change:transform;white-space:nowrap;font-family:'Liberation Sans',sans-serif;font-size:26.16px;line-height:26.16px;font-weight:400;color:#1c1c1c;letter-spacing:2.545px;word-spacing:-0.09em;">Tim–3</div><div id="t26" class="r" style="position:absolute;left:1021.19px;top:543.70px;transform-origin:0 0;transform:scaleX(0.7547);will-change:transform;white-space:nowrap;font-family:'Liberation Sans',sans-serif;font-size:26.16px;line-height:26.16px;font-weight:400;color:#1c1c1c;letter-spacing:2.218px;word-spacing:-0.09em;">Ligands de Tim–3</div><div id="t27" class="r" style="position:absolute;left:1088.42px;top:592.50px;transform-origin:0 0;transform:scaleX(0.7400);will-change:transform;white-space:nowrap;font-family:'Liberation Sans',sans-serif;font-size:26.45px;line-height:26.45px;font-weight:400;color:#1c1c1c;letter-spacing:2.218px;word-spacing:-0.09em;">PtdSer</div><div id="t28" class="r" style="position:absolute;left:1084.69px;top:633.70px;transform-origin:0 0;transform:scaleX(0.6563);will-change:transform;white-space:nowrap;font-family:'Liberation Sans',sans-serif;font-size:26.60px;line-height:26.60px;font-weight:400;color:#1c1c1c;letter-spacing:2.909px;word-spacing:-0.09em;">HMGB1</div><div id="t29" class="r" style="position:absolute;left:1094.29px;top:678.80px;transform-origin:0 0;transform:scaleX(0.7141);will-change:transform;white-space:nowrap;font-family:'Liberation Sans',sans-serif;font-size:26.45px;line-height:26.45px;font-weight:400;color:#1c1c1c;letter-spacing:2.273px;word-spacing:-0.09em;">Gal–9</div><div id="t30" class="r" style="position:absolute;left:1023.20px;top:724.20px;transform-origin:0 0;transform:scaleX(0.7967);will-change:transform;white-space:nowrap;font-family:'Liberation Sans',sans-serif;font-size:26.16px;line-height:26.16px;font-weight:400;color:#1c1c1c;letter-spacing:1.977px;word-spacing:-0.09em;">Corps apoptotique</div>
</body></html>
